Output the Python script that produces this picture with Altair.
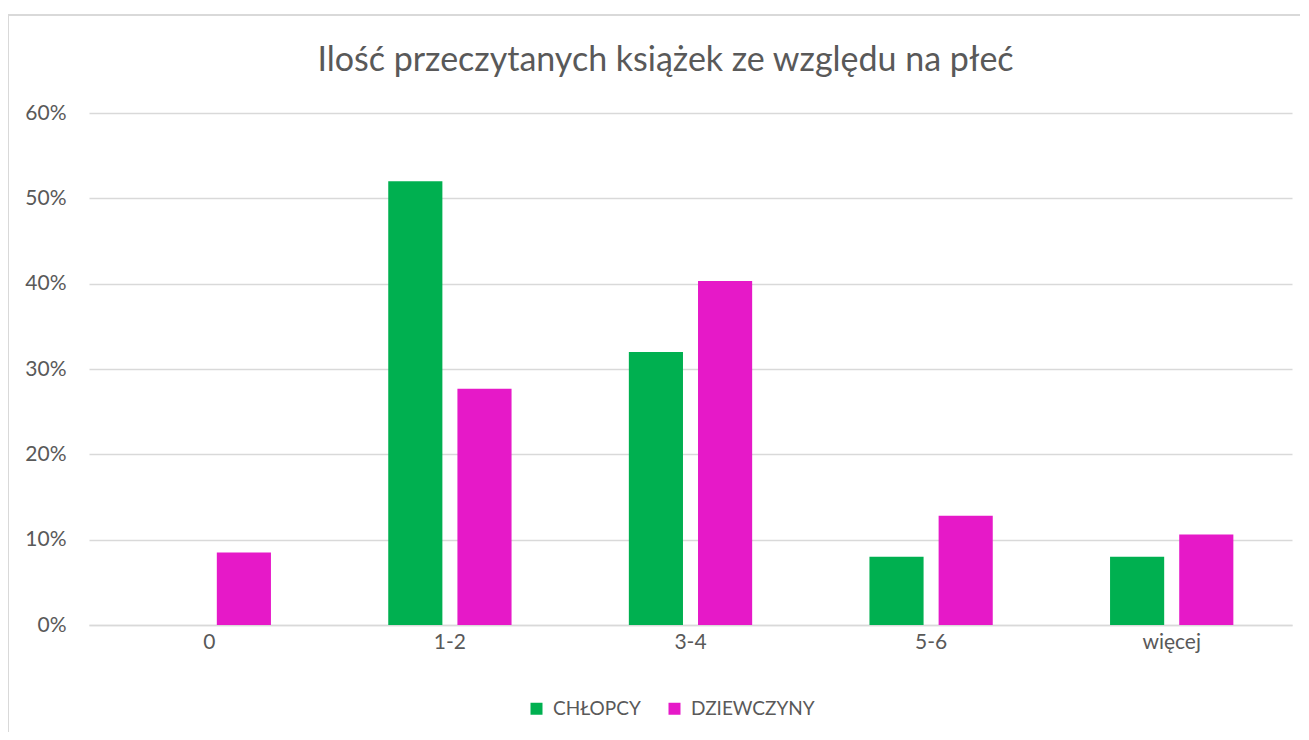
import altair as alt
import pandas as pd

categories = ["0", "1-2", "3-4", "5-6", "więcej"]
series = ["CHŁOPCY", "DZIEWCZYNY"]
chlopcy = [0.0, 0.52, 0.32, 0.08, 0.08]
dziewczyny = [0.085, 0.277, 0.403, 0.128, 0.106]
colors = ["#00B050", "#E619C8"]

rows = []
for c, a, b in zip(categories, chlopcy, dziewczyny):
    rows.append({"kat": c, "plec": series[0], "val": a})
    rows.append({"kat": c, "plec": series[1], "val": b})
df = pd.DataFrame(rows)

FONT = "Lato"
GREY = "#595959"
LIGHT = "#D9D9D9"

bars = alt.Chart(df).mark_bar().encode(
    x=alt.X("kat:N", sort=categories, title=None,
            scale=alt.Scale(paddingInner=0.4875, paddingOuter=0.24375),
            axis=alt.Axis(labelAngle=0, labelFontSize=21, labelColor=GREY, labelFont=FONT,
                          ticks=False, domain=True, domainColor=LIGHT, domainWidth=1.3,
                          labelPadding=6)),
    xOffset=alt.XOffset("plec:N", sort=series, scale=alt.Scale(paddingInner=0.2174, paddingOuter=0)),
    y=alt.Y("val:Q", title=None,
            scale=alt.Scale(domain=[0, 0.6], nice=False),
            axis=alt.Axis(format=".0%", values=[0, 0.1, 0.2, 0.3, 0.4, 0.5, 0.6],
                          labelFontSize=21, labelColor=GREY, labelFont=FONT,
                          ticks=False, domain=False, gridColor=LIGHT, gridWidth=1.3,
                          labelPadding=23)),
    color=alt.Color("plec:N", sort=series, scale=alt.Scale(domain=series, range=colors),
                    legend=alt.Legend(title=None, orient="none", legendX=438, legendY=586,
                                      direction="horizontal", padding=0,
                                      symbolType="square", symbolSize=144, symbolStrokeWidth=0,
                                      labelFontSize=19, labelColor=GREY, labelFont=FONT,
                                      labelOffset=7, columnPadding=24)),
)

frame = alt.Chart(df).mark_rect(fill=None, stroke=LIGHT, strokeWidth=2).encode(
    x=alt.value(-81), x2=alt.value(1240), y=alt.value(-98), y2=alt.value(660)
)

chart = alt.layer(frame, bars).properties(
    width=1203,
    height=512,
    background="white",
    title=alt.Title("Ilość przeczytanych książek ze względu na płeć", fontSize=34,
                    font=FONT, fontWeight="normal", color=GREY, offset=0, dy=64, dx=-25),
    autosize=alt.AutoSizeParams(type="none"),
    padding={"left": 81, "top": 105, "right": 8, "bottom": 107},
).configure_view(strokeWidth=0, stroke="transparent")

chart.save("out.html", embed_options={"renderer": "svg", "actions": False})
